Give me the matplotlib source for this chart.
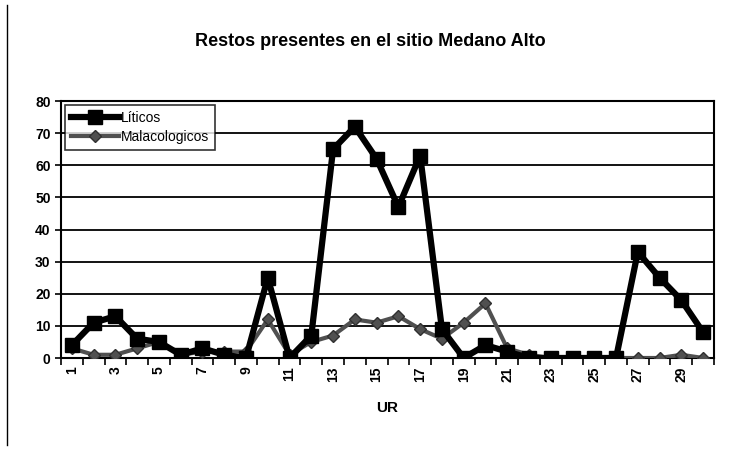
import matplotlib.pyplot as plt
import numpy as np

plt.rcParams['font.family'] = ['Liberation Sans', 'DejaVu Sans']

ur = list(range(1, 31))
liticos = [4, 11, 13, 6, 5, 1, 3, 1, 0, 25,
           0, 7, 65, 72, 62, 47, 63, 9, 0, 4,
           2, 0, 0, 0, 0, 0, 33, 25, 18, 8]
malacologicos = [3, 1, 1, 3, 5, 1, 2, 2, 2, 12,
                 1, 5, 7, 12, 11, 13, 9, 6, 11, 17,
                 3, 1, 0, 0, 0, 0, 0, 0, 1, 0]
etiquetas = [str(u) if u % 2 == 1 else '' for u in ur]

fig = plt.figure(figsize=(7.41, 4.54), dpi=100)
ax = fig.add_axes([61 / 741, 1 - 358 / 454, 653 / 741, 257 / 454])

x = np.arange(len(ur))
ax.plot(x, malacologicos, color='#505050', lw=3, marker='D', ms=6,
        markerfacecolor='#505050', markeredgecolor='#303030', label='Malacologicos', zorder=3)
ax.plot(x, liticos, color='black', lw=4.5, marker='s', ms=10, label='Líticos', zorder=4)

ax.set_xlim(-0.5, len(ur) - 0.5)
ax.set_ylim(0, 80)
ax.set_yticks(range(0, 81, 10))
ax.yaxis.grid(True, color='black', lw=1.3)
ax.set_axisbelow(True)

ax.set_xticks(x)
ax.set_xticklabels(etiquetas, rotation=90, fontsize=10, fontweight='bold')
ax.set_xticks(np.arange(-0.5, len(ur), 1), minor=True)
ax.tick_params(axis='x', which='major', length=0, pad=6)
ax.tick_params(axis='x', which='minor', length=5, width=1.2)
ax.tick_params(axis='y', length=4, width=1.2, labelsize=10)
for lab in ax.get_yticklabels():
    lab.set_fontweight('bold')
for s in ax.spines.values():
    s.set_linewidth(1.5)

ax.set_xlabel('UR', fontsize=11, fontweight='bold', labelpad=14)
fig.text(0.5, 1 - 42 / 454, 'Restos presentes en el sitio Medano Alto',
         ha='center', va='center', fontsize=13, fontweight='bold')

handles, labels = ax.get_legend_handles_labels()
leg = ax.legend(handles[::-1], labels[::-1], loc='upper left', fontsize=10,
                frameon=True, fancybox=False, edgecolor='black', handlelength=3.5,
                borderaxespad=0.3, handletextpad=0.1, labelspacing=0.4)
leg.get_frame().set_linewidth(1.2)

fig.add_artist(plt.Line2D([7 / 741, 7 / 741], [0.02, 0.99], color='black', lw=1))

fig.savefig('out.png', dpi=100)
